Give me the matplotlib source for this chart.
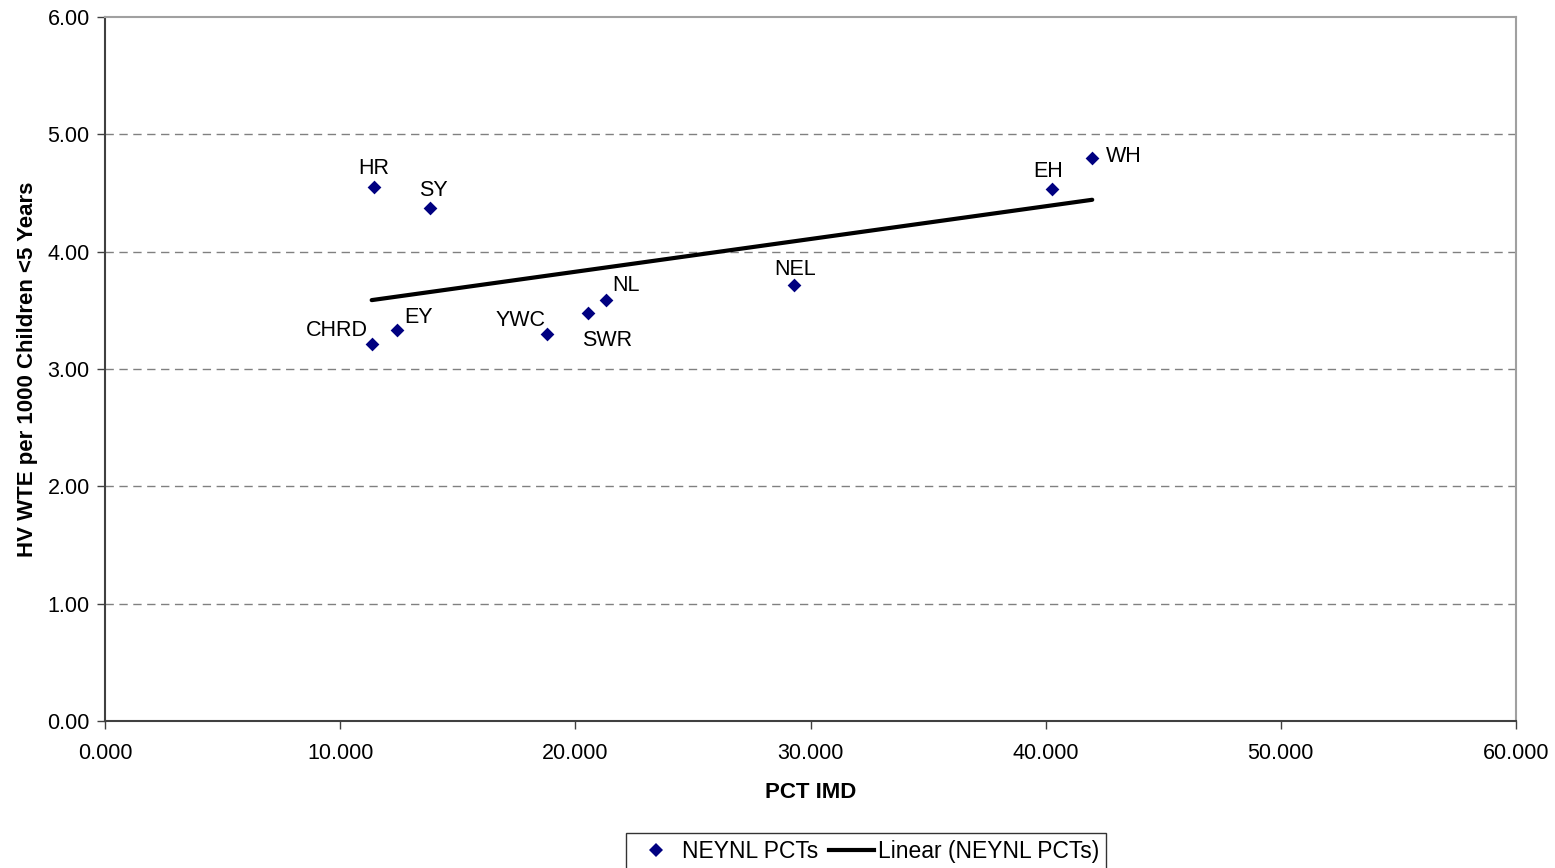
import numpy as np
import matplotlib
matplotlib.use("Agg")
import matplotlib.pyplot as plt
from matplotlib.lines import Line2D

plt.rcParams['font.family'] = ['Liberation Sans', 'DejaVu Sans']

labels = ["HR", "SY", "CHRD", "EY", "YWC", "SWR", "NL", "NEL", "EH", "WH"]
pct_imd = [11.42, 13.83, 11.34, 12.40, 18.81, 20.55, 21.30, 29.31, 40.28, 41.98]
hv_wte = [4.55, 4.37, 3.21, 3.33, 3.30, 3.48, 3.59, 3.72, 4.53, 4.80]
# label offsets in pixels (dx, dy)
label_offsets = {"HR": (0, 19), "SY": (3, 18), "CHRD": (-35, 14), "EY": (22, 13),
                 "YWC": (-27, 13), "SWR": (19, -28), "NL": (20, 14), "NEL": (1, 15),
                 "EH": (-4, 18), "WH": (32, 1)}

xticks = [0, 10, 20, 30, 40, 50, 60]
yticks = [0, 1, 2, 3, 4, 5, 6]

fig = plt.figure(figsize=(15.55, 8.68), dpi=100)
ax = fig.add_axes([105/1555, 1-721/868, (1516-105)/1555, (721-17)/868])

ax.set_xlim(0, 60)
ax.set_ylim(0, 6)
for y in yticks[1:-1]:
    ax.axhline(y, color='#808080', lw=1, ls=(0, (6, 4)), zorder=1)

ax.scatter(pct_imd, hv_wte, marker='D', s=7**2, color='#000080', zorder=3, linewidths=0)

x = np.array(pct_imd)
y = np.array(hv_wte)
m, b = np.polyfit(x, y, 1)
xl = np.array([x.min(), x.max()])
ax.plot(xl, m*xl + b, color='black', lw=3, zorder=2, solid_capstyle='round')

for lab, xi, yi in zip(labels, pct_imd, hv_wte):
    dx, dy = label_offsets[lab]
    ax.annotate(lab, (xi, yi), xytext=(dx, dy), textcoords='offset pixels',
                ha='center', va='center', fontsize=15.5, color='black')

ax.set_xticks(xticks)
ax.set_xticklabels([f"{v:.3f}" for v in xticks], fontsize=15.5)
ax.set_yticks(yticks)
ax.set_yticklabels([f"{v:.2f}" for v in yticks], fontsize=15.5)
ax.tick_params(axis='x', direction='out', length=6, width=1, color='#404040', pad=10)
ax.tick_params(axis='y', direction='out', length=6, width=1, color='#404040', pad=5)

for s in ['left', 'bottom']:
    ax.spines[s].set_color('#404040')
    ax.spines[s].set_linewidth(1.5)
for s in ['top', 'right']:
    ax.spines[s].set_color('#a0a0a0')
    ax.spines[s].set_linewidth(1.5)

ax.set_xlabel("PCT IMD", fontsize=16, fontweight='bold', labelpad=13)
ax.set_ylabel("HV WTE per 1000 Children <5 Years", fontsize=16, fontweight='bold', labelpad=7)

handles = [Line2D([], [], marker='D', color='#000080', ls='none', ms=7, mew=0),
           Line2D([], [], color='black', lw=3)]
leg = fig.legend(handles, ["NEYNL PCTs", "Linear (NEYNL PCTs)"], loc='upper center',
                 bbox_to_anchor=(866/1555, 1-833/868), ncol=2, fontsize=16.5,
                 frameon=True, fancybox=False, edgecolor='black', columnspacing=0.45,
                 handlelength=2.0, handletextpad=0.15, borderpad=0.3, borderaxespad=0)
leg.get_frame().set_linewidth(1)

fig.savefig("out.png", dpi=100)
